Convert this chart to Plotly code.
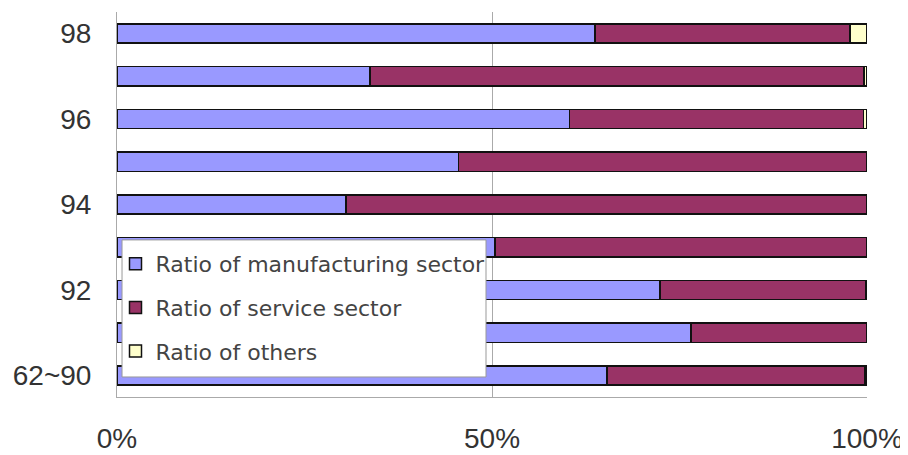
import plotly.graph_objects as go

years = ["62~90", "91", "92", "93", "94", "95", "96", "97", "98"]
manufacturing = [65.3, 76.5, 72.4, 50.4, 30.5, 45.5, 60.3, 33.7, 63.7]
service = [34.4, 23.5, 27.4, 49.6, 69.5, 54.5, 39.2, 65.9, 34.0]
others = [0.3, 0.0, 0.2, 0.0, 0.0, 0.0, 0.5, 0.4, 2.3]

shown_ticks = ["98", "96", "94", "92", "62~90"]
x_ticks = [0, 50, 100]
x_tick_labels = ["0%", "50%", "100%"]

series = [
    ("Ratio of manufacturing sector", manufacturing, "#9999FF"),
    ("Ratio of service sector", service, "#993366"),
    ("Ratio of others", others, "#FFFFCC"),
]

fig = go.Figure()
for i, (name, vals, color) in enumerate(series):
    fig.add_trace(go.Bar(
        y=years, x=vals, name=name, orientation="h",
        marker=dict(color=color, line=dict(color="#111111", width=1.5)),
        width=0.45, legendgroup=f"g{i}",
    ))

# legend frame drawn as a box behind the (transparent) legend
fig.add_shape(
    type="rect", xref="paper", yref="paper",
    x0=0.0067, x1=0.492, y0=0.052, y1=0.408,
    fillcolor="white", line=dict(color="#999999", width=1), layer="above",
)

fig.update_layout(
    barmode="stack",
    width=908, height=455,
    margin=dict(l=109, r=49, t=4, b=66, autoexpand=False),
    paper_bgcolor="white", plot_bgcolor="white",
    font=dict(family="Liberation Sans, Arial, sans-serif", color="#333333"),
    showlegend=True,
    legend=dict(
        x=-0.002, y=0.4, xanchor="left", yanchor="top",
        bgcolor="rgba(0,0,0,0)", borderwidth=0,
        font=dict(family="DejaVu Sans, sans-serif", size=22, color="#444444"),
        tracegroupgap=12, traceorder="grouped",
        entrywidth=340, entrywidthmode="pixels",
    ),
    xaxis=dict(
        range=[0, 100], tickvals=x_ticks, ticktext=x_tick_labels,
        showgrid=True, gridcolor="#AAAAAA", gridwidth=1,
        showline=True, linecolor="#AAAAAA", linewidth=1,
        zeroline=False, ticks="", ticklabelstandoff=16, automargin=False,
        tickfont=dict(size=28, color="#333333"),
    ),
    yaxis=dict(
        type="category", categoryorder="array", categoryarray=years,
        tickvals=shown_ticks, ticktext=shown_ticks,
        showgrid=False, showline=True, linecolor="#AAAAAA", linewidth=1,
        ticks="", ticklabelstandoff=19, automargin=False,
        tickfont=dict(size=28, color="#333333"),
        range=[-0.5, 8.5],
    ),
)

fig.write_html("out.html")
